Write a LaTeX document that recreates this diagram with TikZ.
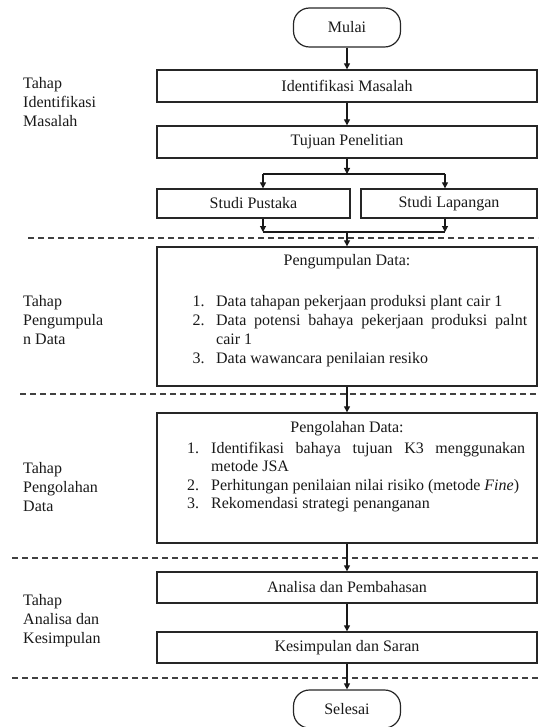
\documentclass[tikz,border=0pt]{standalone}
\usepackage{fontspec}
\setmainfont{Liberation Serif}
\usetikzlibrary{arrows.meta}
\begin{document}
\begin{tikzpicture}[x=1pt,y=-1pt,
  every node/.style={font=\fontsize{16}{19}\selectfont, text=black!90},
  box/.style={draw=black!85, line width=1.3pt, inner sep=0pt},
  term/.style={draw=black!85, line width=1.2pt, rounded corners=16pt, minimum width=107pt, minimum height=39pt, inner sep=0pt},
  arr/.style={draw=black!90, line width=1.1pt, -{Triangle[length=6pt,width=6pt]}},
  ln/.style={draw=black!90, line width=1.1pt},
  sep/.style={line width=1.1pt, dash pattern=on 6pt off 4pt, draw=black!75},
  lbl/.style={align=left, anchor=west, inner sep=0pt},
  lst/.style={align=left, anchor=north west, inner sep=0pt}
]
\useasboundingbox (0,0) rectangle (538,727);

% separators
\draw[sep] (28,238) -- (538,238);
\draw[sep] (20,394) -- (538,394);
\draw[sep] (12,558) -- (538,558);
\draw[sep] (12,678) -- (538,678);

% nodes
\node[term] (mulai) at (347,27.5) {Mulai};
\node[box, minimum width=380pt, minimum height=32pt] (idm) at (347,86) {Identifikasi Masalah};
\node[box, minimum width=380pt, minimum height=32pt] (tuj) at (347,142) {Tujuan Penelitian};
\node[box, minimum width=193pt, minimum height=29pt] (pus) at (253.5,203.5) {Studi Pustaka};
\node[box, minimum width=176pt, minimum height=29pt] (lap) at (449,203.5) {Studi Lapangan};
\node[box, minimum width=380pt, minimum height=139pt] (pgm) at (347,316.5) {};
\node[box, minimum width=380pt, minimum height=130pt] (pgl) at (347,478) {};
\node[box, minimum width=380pt, minimum height=31pt] (ana) at (347,587.5) {Analisa dan Pembahasan};
\node[box, minimum width=380pt, minimum height=31pt] (kes) at (347,647.5) {Kesimpulan dan Saran};
\node[term, minimum height=38pt] (sel) at (347,709) {Selesai};

% box contents
\node (t1) at (347,262) {Pengumpulan Data:};
\node[lst] (l1) at (192.5,295) {\makebox[23.5pt][l]{1.}Data tahapan pekerjaan produksi plant cair 1\\
\makebox[23.5pt][l]{2.}\makebox[311pt][s]{Data potensi bahaya pekerjaan produksi palnt}\\
\hspace*{23.5pt}cair 1\\
\makebox[23.5pt][l]{3.}Data wawancara penilaian resiko};

\node (t2) at (347,429) {Pengolahan Data:};
\node[lst, font=\fontsize{16}{18.5}\selectfont] (l2) at (187,442) {\makebox[24pt][l]{1.}\makebox[314pt][s]{Identifikasi bahaya tujuan K3 menggunakan}\\
\hspace*{24pt}metode JSA\\
\makebox[24pt][l]{2.}Perhitungan penilaian nilai risiko (metode \textit{Fine})\\
\makebox[24pt][l]{3.}Rekomendasi strategi penanganan};

% stage labels
\node[lbl] (s1) at (23,102) {Tahap\\Identifikasi\\Masalah};
\node[lbl] (s2) at (23,320) {Tahap\\Pengumpula\\n Data};
\node[lbl] (s3) at (23,487) {Tahap\\Pengolahan\\Data};
\node[lbl] (s4) at (23,621) {Tahap\\Analisa dan\\Kesimpulan};

% junction coordinates
\coordinate (j1) at (347,174);
\coordinate (j1l) at (263,174);
\coordinate (j1r) at (445,174);
\coordinate (j2) at (347,232);
\coordinate (j2l) at (263,232);
\coordinate (j2r) at (445,232);

% connectors
\draw[arr] (mulai.south) -- (idm.north);
\draw[arr] (idm.south) -- (tuj.north);
\draw[arr] (tuj.south) -- (j1);
\draw[ln] (j1l) -- (j1r);
\draw[arr] (j1l) -- (j1l |- pus.north);
\draw[arr] (j1r) -- (j1r |- lap.north);
\draw[arr] (j2l |- pus.south) -- (j2l);
\draw[arr] (j2r |- lap.south) -- (j2r);
\draw[ln] (j2l) -- (j2r);
\draw[arr] (j2) -- (pgm.north);
\draw[arr] (pgm.south) -- (pgl.north);
\draw[arr] (pgl.south) -- (ana.north);
\draw[arr] (ana.south) -- (kes.north);
\draw[arr] (kes.south) -- (sel.north);
\end{tikzpicture}
\end{document}
